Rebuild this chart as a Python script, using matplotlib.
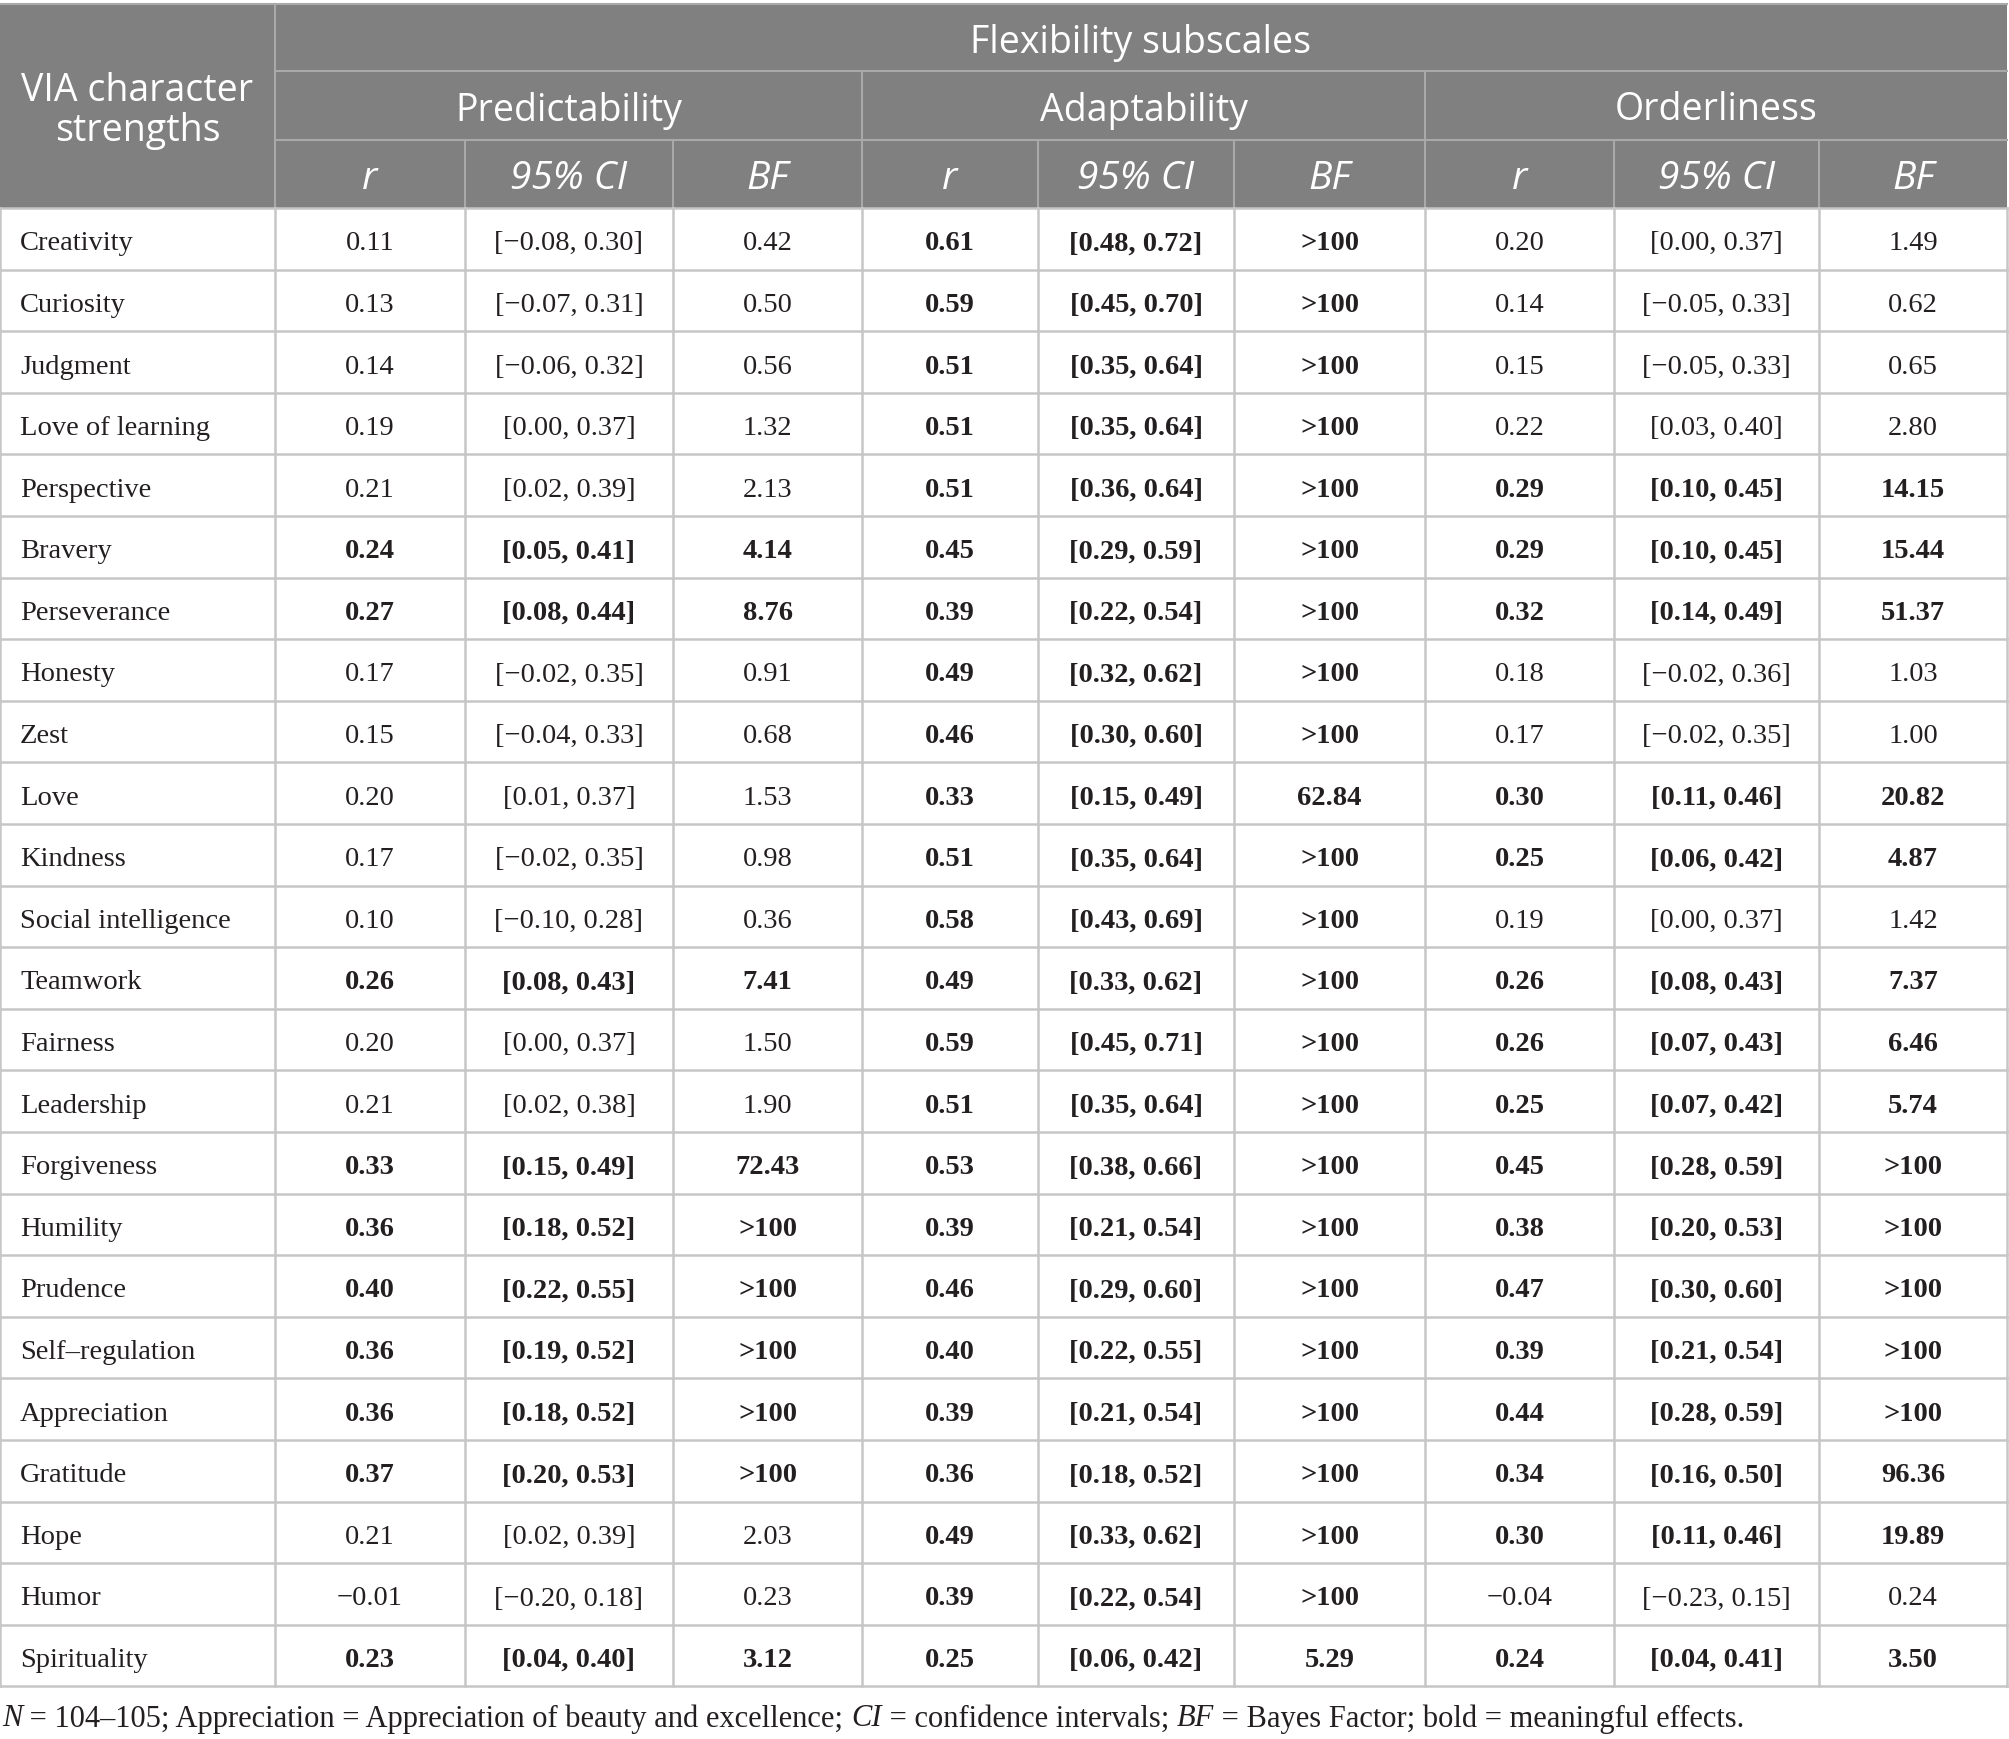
import matplotlib
matplotlib.use("Agg")
import matplotlib.pyplot as plt
from matplotlib.patches import Rectangle


strengths = ["Creativity", "Curiosity", "Judgment", "Love of learning", "Perspective",
             "Bravery", "Perseverance", "Honesty", "Zest", "Love", "Kindness",
             "Social intelligence", "Teamwork", "Fairness", "Leadership", "Forgiveness",
             "Humility", "Prudence", "Self\u2013regulation", "Appreciation", "Gratitude",
             "Hope", "Humor", "Spirituality"]

pred_r = [0.11, 0.13, 0.14, 0.19, 0.21, 0.24, 0.27, 0.17, 0.15, 0.20, 0.17, 0.10,
          0.26, 0.20, 0.21, 0.33, 0.36, 0.40, 0.36, 0.36, 0.37, 0.21, -0.01, 0.23]
pred_ci = [(-0.08, 0.30), (-0.07, 0.31), (-0.06, 0.32), (0.00, 0.37), (0.02, 0.39),
           (0.05, 0.41), (0.08, 0.44), (-0.02, 0.35), (-0.04, 0.33), (0.01, 0.37),
           (-0.02, 0.35), (-0.10, 0.28), (0.08, 0.43), (0.00, 0.37), (0.02, 0.38),
           (0.15, 0.49), (0.18, 0.52), (0.22, 0.55), (0.19, 0.52), (0.18, 0.52),
           (0.20, 0.53), (0.02, 0.39), (-0.20, 0.18), (0.04, 0.40)]
pred_bf = ["0.42", "0.50", "0.56", "1.32", "2.13", "4.14", "8.76", "0.91", "0.68", "1.53",
           "0.98", "0.36", "7.41", "1.50", "1.90", "72.43", ">100", ">100", ">100", ">100",
           ">100", "2.03", "0.23", "3.12"]
pred_bold = [0, 0, 0, 0, 0, 1, 1, 0, 0, 0, 0, 0, 1, 0, 0, 1, 1, 1, 1, 1, 1, 0, 0, 1]

adap_r = [0.61, 0.59, 0.51, 0.51, 0.51, 0.45, 0.39, 0.49, 0.46, 0.33, 0.51, 0.58,
          0.49, 0.59, 0.51, 0.53, 0.39, 0.46, 0.40, 0.39, 0.36, 0.49, 0.39, 0.25]
adap_ci = [(0.48, 0.72), (0.45, 0.70), (0.35, 0.64), (0.35, 0.64), (0.36, 0.64),
           (0.29, 0.59), (0.22, 0.54), (0.32, 0.62), (0.30, 0.60), (0.15, 0.49),
           (0.35, 0.64), (0.43, 0.69), (0.33, 0.62), (0.45, 0.71), (0.35, 0.64),
           (0.38, 0.66), (0.21, 0.54), (0.29, 0.60), (0.22, 0.55), (0.21, 0.54),
           (0.18, 0.52), (0.33, 0.62), (0.22, 0.54), (0.06, 0.42)]
adap_bf = [">100"] * 9 + ["62.84"] + [">100"] * 13 + ["5.29"]
adap_bold = [1] * 24

ord_r = [0.20, 0.14, 0.15, 0.22, 0.29, 0.29, 0.32, 0.18, 0.17, 0.30, 0.25, 0.19,
         0.26, 0.26, 0.25, 0.45, 0.38, 0.47, 0.39, 0.44, 0.34, 0.30, -0.04, 0.24]
ord_ci = [(0.00, 0.37), (-0.05, 0.33), (-0.05, 0.33), (0.03, 0.40), (0.10, 0.45),
          (0.10, 0.45), (0.14, 0.49), (-0.02, 0.36), (-0.02, 0.35), (0.11, 0.46),
          (0.06, 0.42), (0.00, 0.37), (0.08, 0.43), (0.07, 0.43), (0.07, 0.42),
          (0.28, 0.59), (0.20, 0.53), (0.30, 0.60), (0.21, 0.54), (0.28, 0.59),
          (0.16, 0.50), (0.11, 0.46), (-0.23, 0.15), (0.04, 0.41)]
ord_bf = ["1.49", "0.62", "0.65", "2.80", "14.15", "15.44", "51.37", "1.03", "1.00", "20.82",
          "4.87", "1.42", "7.37", "6.46", "5.74", ">100", ">100", ">100", ">100", ">100",
          "96.36", "19.89", "0.24", "3.50"]
ord_bold = [0, 0, 0, 0, 1, 1, 1, 0, 0, 1, 1, 0, 1, 1, 1, 1, 1, 1, 1, 1, 1, 1, 0, 1]

subscales = ["Predictability", "Adaptability", "Orderliness"]
sub_cols = ["r", "95% CI", "BF"]

footer = [("N", "italic"), (" = 104\u2013105; Appreciation = Appreciation of beauty and excellence; ", "normal"),
          ("CI", "italic"), (" = confidence intervals; ", "normal"),
          ("BF", "italic"), (" = Bayes Factor; bold = meaningful effects.", "normal")]


def fmt(v):
    return f"{v:.2f}".replace("-", "\u2212")


W, H = 2009, 1740
col_edges = [0, 275, 465, 673, 862, 1038, 1234, 1425, 1614, 1819, 2007]
hdr_y = [5, 72, 141, 209]
row_h = 61.6
body_top = hdr_y[-1]
n_rows = len(strengths)
body_bot = body_top + n_rows * row_h

HDR_BG = "#808080"
HDR_LINE = "#a9a9a9"
BODY_LINE = "#c6c6c6"
TXT = "#231f20"
SANS = "Open Sans"
SERIF = "Liberation Serif"
HDR_FS = 27
DATA_FS = 20.5

fig = plt.figure(figsize=(W / 100, H / 100), dpi=100)
ax = fig.add_axes([0, 0, 1, 1])
ax.set_xlim(0, W)
ax.set_ylim(H, 0)
ax.axis("off")

# header block
ax.add_patch(Rectangle((col_edges[0], hdr_y[0]), col_edges[-1] - col_edges[0],
                       hdr_y[-1] - hdr_y[0], facecolor=HDR_BG, edgecolor="none"))
ax.plot([col_edges[0], col_edges[-1]], [hdr_y[0], hdr_y[0]], color=HDR_LINE, lw=1.5)
ax.plot([col_edges[1], col_edges[-1]], [hdr_y[1], hdr_y[1]], color=HDR_LINE, lw=1.5)
ax.plot([col_edges[1], col_edges[-1]], [hdr_y[2], hdr_y[2]], color=HDR_LINE, lw=1.5)
ax.plot([col_edges[1], col_edges[1]], [hdr_y[0], hdr_y[3]], color=HDR_LINE, lw=1.5)
for g in range(3):
    left = col_edges[1 + 3 * g]
    if g > 0:
        ax.plot([left, left], [hdr_y[1], hdr_y[3]], color=HDR_LINE, lw=1.5)
    for k in range(1, 3):
        x = col_edges[1 + 3 * g + k]
        ax.plot([x, x], [hdr_y[2], hdr_y[3]], color=HDR_LINE, lw=1.5)

off = 4
ax.text(col_edges[1] / 2, (hdr_y[0] + hdr_y[3]) / 2 + off, "VIA character\nstrengths", color="white",
        fontsize=HDR_FS, family=SANS, ha="center", va="center", linespacing=1.07)
ax.text((col_edges[1] + col_edges[-1]) / 2, (hdr_y[0] + hdr_y[1]) / 2 + off, "Flexibility subscales",
        color="white", fontsize=HDR_FS, family=SANS, ha="center", va="center")
for g, name in enumerate(subscales):
    x0, x1 = col_edges[1 + 3 * g], col_edges[4 + 3 * g]
    ax.text((x0 + x1) / 2, (hdr_y[1] + hdr_y[2]) / 2 + off, name, color="white", fontsize=HDR_FS,
            family=SANS, ha="center", va="center")
    for k, lab in enumerate(sub_cols):
        a, b = col_edges[1 + 3 * g + k], col_edges[2 + 3 * g + k]
        ax.text((a + b) / 2, (hdr_y[2] + hdr_y[3]) / 2 + off, lab, color="white", fontsize=HDR_FS + 1,
                family=SANS, style="italic", ha="center", va="center")

# body grid
for i in range(n_rows + 1):
    y = body_top + i * row_h
    ax.plot([col_edges[0], col_edges[-1]], [y, y], color=BODY_LINE, lw=1.8)
for x in col_edges:
    ax.plot([x, x], [body_top, body_bot], color=BODY_LINE, lw=1.8)

groups = [(pred_r, pred_ci, pred_bf, pred_bold),
          (adap_r, adap_ci, adap_bf, adap_bold),
          (ord_r, ord_ci, ord_bf, ord_bold)]

for i, name in enumerate(strengths):
    yc = body_top + (i + 0.5) * row_h + 4
    ax.text(20, yc, name, color=TXT, fontsize=DATA_FS, family=SERIF, ha="left", va="center")
    for g, (rv, civ, bfv, bold) in enumerate(groups):
        w = "bold" if bold[i] else "normal"
        cells = [fmt(rv[i]), f"[{fmt(civ[i][0])}, {fmt(civ[i][1])}]", bfv[i]]
        for k, txt in enumerate(cells):
            a, b = col_edges[1 + 3 * g + k], col_edges[2 + 3 * g + k]
            ax.text((a + b) / 2, yc, txt, color=TXT, fontsize=DATA_FS, family=SERIF,
                    weight=w, ha="center", va="center")

# footnote, pieces placed one after another
fig.canvas.draw()
renderer = fig.canvas.get_renderer()
x = 2
for piece, st in footer:
    t = ax.text(x, 1719, piece, color=TXT, fontsize=22, family=SERIF, style=st,
                ha="left", va="center")
    bb = t.get_window_extent(renderer=renderer)
    x += bb.width

fig.savefig("out.png", dpi=100)
